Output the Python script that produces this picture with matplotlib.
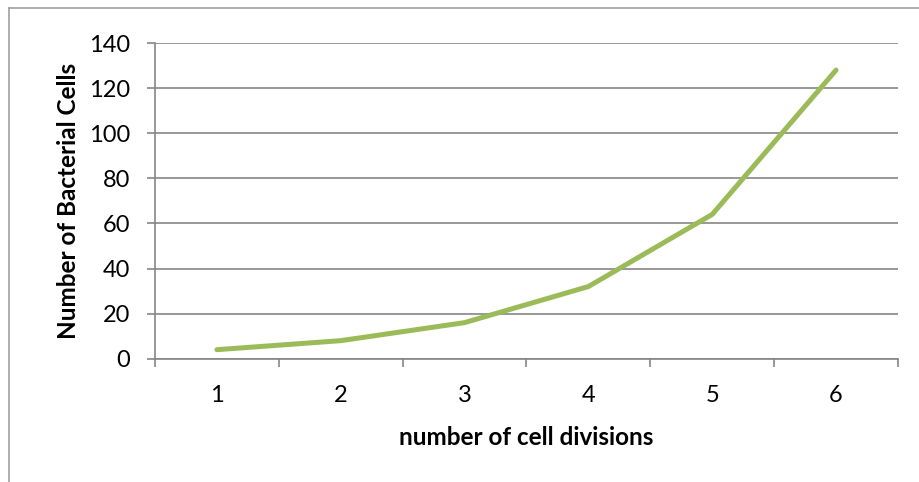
import matplotlib
matplotlib.use("Agg")
import matplotlib.pyplot as plt
from matplotlib.lines import Line2D

categories = ["1", "2", "3", "4", "5", "6"]
cells = [4, 8, 16, 32, 64, 128]
yticks = [0, 20, 40, 60, 80, 100, 120, 140]

plt.rcParams['font.family'] = ['Lato', 'DejaVu Sans']

W, H = 920, 482
fig = plt.figure(figsize=(W / 100, H / 100), dpi=100)
left, right, top, bottom = 155, 898, 43, 358.7
ax = fig.add_axes([left / W, 1 - bottom / H, (right - left) / W, (bottom - top) / H])

x = list(range(len(categories)))
ax.plot(x, cells, color="#9BBB59", lw=3.6, solid_capstyle="round", solid_joinstyle="round", zorder=3)

ax.set_xlim(-0.5, len(categories) - 0.5)
ax.set_ylim(0, 140)
ax.set_yticks(yticks)
ax.set_yticklabels([str(v) for v in yticks], fontsize=17)
ax.set_xticks(x)
ax.set_xticklabels(categories, fontsize=17)
ax.tick_params(axis="x", length=0, pad=19)
ax.set_xticks([i - 0.5 for i in range(len(categories) + 1)], minor=True)
ax.tick_params(axis="x", which="minor", length=6, color="#868686", width=1.2, direction="out")
ax.tick_params(axis="y", length=6, color="#868686", width=1.2, pad=12)

ax.grid(axis="y", color="#868686", lw=1.2)
ax.set_axisbelow(True)
for s in ["top", "right"]:
    ax.spines[s].set_visible(False)
for s in ["left", "bottom"]:
    ax.spines[s].set_color("#868686")
    ax.spines[s].set_linewidth(1.2)

ax.set_xlabel("number of cell divisions", fontsize=17.5, fontweight="bold", labelpad=14)
ax.set_ylabel("Number of Bacterial Cells", fontsize=17.5, fontweight="bold", labelpad=6)

# chart border
fig.add_artist(Line2D([9.5 / W, 9.5 / W], [1 - 8 / H, 0], transform=fig.transFigure, color="#A0A0A0", lw=1.2))
fig.add_artist(Line2D([9.5 / W, 1], [1 - 8 / H, 1 - 8 / H], transform=fig.transFigure, color="#A0A0A0", lw=1.2))

fig.savefig("out.png", dpi=100)
